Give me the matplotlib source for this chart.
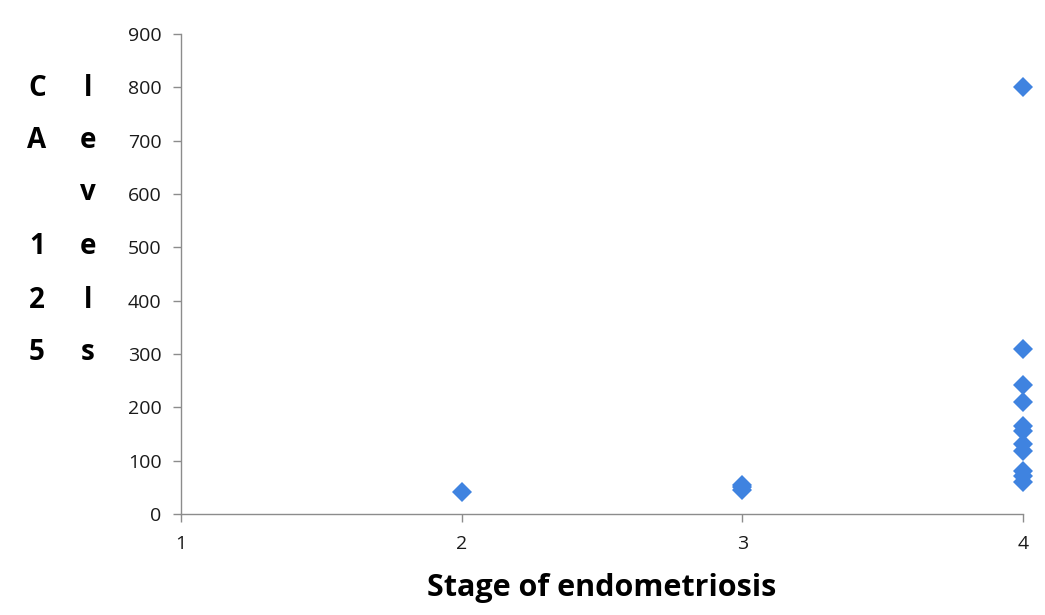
import matplotlib
matplotlib.use("Agg")
import matplotlib.pyplot as plt

# Data
stage = [2, 3, 3, 3, 4, 4, 4, 4, 4, 4, 4, 4, 4, 4, 4]
ca125 = [42, 45, 50, 55, 800, 310, 242, 210, 165, 155, 132, 118, 80, 72, 60]
x_ticks = [1, 2, 3, 4]
y_ticks = [0, 100, 200, 300, 400, 500, 600, 700, 800, 900]
ylabel_col1 = ["C", "A", "", "1", "2", "5"]
ylabel_col2 = ["l", "e", "v", "e", "l", "s"]
xlabel = "Stage of endometriosis"

W, H = 1045, 615
fig = plt.figure(figsize=(W / 100, H / 100), dpi=100)
ax = fig.add_axes([181 / W, 1 - 514 / H, (1023 - 181) / W, (514 - 34) / H])

ax.plot(stage, ca125, linestyle="none", marker="D", markersize=10.5,
        markerfacecolor="#3F83E0", markeredgewidth=0, clip_on=False)

ax.set_xlim(1, 4)
ax.set_ylim(0, 900)
ax.set_xticks(x_ticks)
ax.set_yticks(y_ticks)
ax.set_xticklabels([str(v) for v in x_ticks])
ax.set_yticklabels([str(v) for v in y_ticks])

for s in ["top", "right"]:
    ax.spines[s].set_visible(False)
for s in ["left", "bottom"]:
    ax.spines[s].set_color("#8c8c8c")
    ax.spines[s].set_linewidth(1.0)

ax.tick_params(axis="both", direction="out", length=6, width=1.0, color="#8c8c8c",
               labelsize=14, labelcolor="#1a1a1a", pad=8)
ax.tick_params(axis="x", pad=9)
for lab in ax.get_xticklabels() + ax.get_yticklabels():
    lab.set_fontfamily("Open Sans")

fig.text(602 / W, 1 - 588 / H, xlabel, ha="center", va="center",
         fontsize=22, fontweight="bold", family="Open Sans")

rows_y = [88, 140, 193, 247, 300, 353]
for ch, yy in zip(ylabel_col1, rows_y):
    if ch:
        fig.text(37 / W, 1 - yy / H, ch, ha="center", va="center",
                 fontsize=20, fontweight="bold", family="Open Sans")
for ch, yy in zip(ylabel_col2, rows_y):
    fig.text(88 / W, 1 - yy / H, ch, ha="center", va="center",
             fontsize=20, fontweight="bold", family="Open Sans")

fig.savefig("out.png", dpi=100)
